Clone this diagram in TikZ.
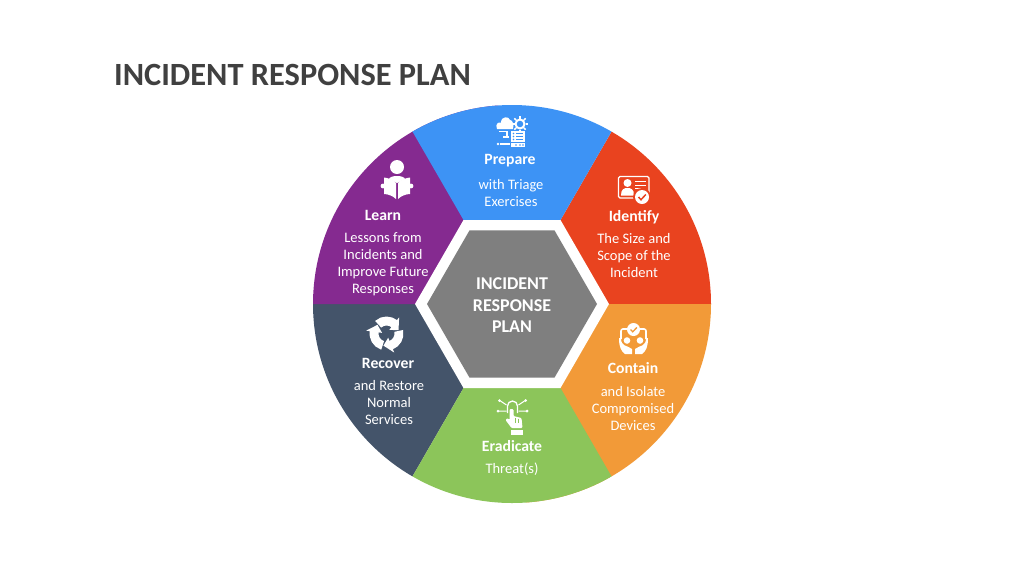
\documentclass[tikz,border=0pt]{standalone}
\usepackage{fontspec}
\setmainfont{Carlito}
\definecolor{cblue}{HTML}{3D93F5}
\definecolor{cred}{HTML}{E9431F}
\definecolor{corange}{HTML}{F29A38}
\definecolor{cgreen}{HTML}{8CC55A}
\definecolor{cnavy}{HTML}{44546A}
\definecolor{cpurple}{HTML}{852A90}
\definecolor{cgrey}{HTML}{7F7F7F}
\definecolor{ctitle}{HTML}{404040}
\tikzset{
  x=1pt,y=-1pt,
  heading/.style={text=white,font=\fontsize{15.7}{17}\selectfont\bfseries,inner sep=0pt,anchor=center},
  body/.style={text=white,font=\fontsize{14.5}{17}\selectfont,align=center,inner sep=0pt,anchor=center},
  centre/.style={text=white,font=\fontsize{18}{21.5}\selectfont\bfseries,align=center,inner sep=0pt},
  maintitle/.style={text=ctitle,font=\fontsize{32.4}{34}\selectfont\bfseries,inner sep=0pt,anchor=west},
}
\begin{document}
\begin{tikzpicture}
\useasboundingbox (0,0) rectangle (1024,576);
\fill[white] (0,0) rectangle (1024,576);
\coordinate (c) at (512,304);
% wheel
\begin{scope}
\clip (c) circle[radius=199pt];
\fill[cred]    (c) -- ++(-60:320) -- ++(300,0) -- (832,304) -- cycle;
\fill[corange] (c) -- (832,304) -- ++(0,280) -- ++(-300,0) -- cycle;
\fill[cnavy]   (c) -- ++(120:320) -- ++(-300,0) -- (192,304) -- cycle;
\fill[cpurple] (c) -- (192,304) -- ++(0,-280) -- ++(300,0) -- cycle;
\fill[cblue]   (c) -- ++(-120:320) -- ++(320,0) -- cycle;
\fill[cgreen]  (c) -- ++(60:320) -- ++(-320,0) -- cycle;
\end{scope}
\fill[white] (c) ++(0:97) -- ++(120:97) -- ++(180:97) -- ++(240:97) -- ++(300:97) -- ++(0:97) -- cycle;
\fill[cgrey] (c) ++(0:85) -- ++(120:85) -- ++(180:85) -- ++(240:85) -- ++(300:85) -- ++(0:85) -- cycle;

% texts
\node[maintitle] (title) at (114,75) {INCIDENT RESPONSE PLAN};
\node[centre] (hub) at (512,305.5) {INCIDENT\\RESPONSE\\PLAN};
\node[heading] (prepare) at (510,161) {Prepare};
\node[body] (prepareb) at (511,193) {with Triage\\Exercises};
\node[heading] (identify) at (634,217) {Identify};
\node[body] (identifyb) at (634,255.5) {The Size and\\Scope of the\\Incident};
\node[heading] (contain) at (633,368) {Contain};
\node[body] (containb) at (633,408.5) {and Isolate\\Compromised\\Devices};
\node[heading] (eradicate) at (512,446.5) {Eradicate};
\node[body] (eradicateb) at (512,469.5) {Threat(s)};
\node[heading] (recover) at (388,363.5) {Recover};
\node[body] (recoverb) at (389,402.5) {and Restore\\Normal\\Services};
\node[heading] (learn) at (383,215) {Learn};
\node[body] (learnb) at (383,264.5) {Lessons from\\Incidents and\\Improve Future\\Responses};

% Prepare icon
\begin{scope}[shift={(497,116)}]
\fill[white] (0,13) .. controls (-2,8) and (1,6) .. (4,6.5) .. controls (4,0) and (12,0) .. (13,4) .. controls (16,4) and (17,9) .. (16,13) -- cycle;
\draw[white,line width=2pt] (23,8) circle[radius=4.5pt];
\foreach \a in {0,45,...,315} \draw[white,line width=1.6pt] (23,8) ++(\a:5.5) -- ++(\a:2.5);
\fill[white] (14,15) rectangle (28,26);
\fill[white] (14,27) rectangle (28,31);
\foreach \yy in {17.5,20.5,23.5} \draw[cblue,line width=.8pt] (19,\yy) -- (26,\yy);
\foreach \yy in {17.5,20.5,23.5} \fill[cblue] (16.5,\yy) circle[radius=.8pt];
\foreach \xx in {19,23,26} \fill[cblue] (\xx,29) circle[radius=.8pt];
\draw[white,line width=1.2pt] (2,15.5) -- (10,15.5) -- (10,21);
\draw[white,line width=1.2pt] (6,21) -- (12,21);
\draw[white,line width=1.6pt] (3,28) -- (13,28);
\fill[white] (1,28) circle[radius=1.4pt];
\end{scope}

% Identify icon
\begin{scope}[shift={(618,176)}]
\draw[white,line width=1.2pt,rounded corners=1.5pt] (.5,.5) rectangle (31,22);
\fill[white] (9.5,7) circle[radius=4pt];
\fill[white] (3,19.5) .. controls (3,13) and (6,12) .. (9.5,12) .. controls (13,12) and (16,13) .. (16,19.5) -- cycle;
\draw[white,line width=1pt] (17,5.5) -- (28,5.5) (17,9) -- (28,9) (17,12.5) -- (24,12.5);
\fill[cred] (24,21) circle[radius=9pt];
\fill[white] (24,21) circle[radius=7pt];
\draw[cred,line width=1.5pt] (20.5,21) -- (23,23.7) -- (27.8,18.5);
\end{scope}

% Contain icon
\begin{scope}[shift={(619,323)}]
\draw[white,line width=1.6pt,rounded corners=2pt] (2,16) -- (2,6) -- (27,6) -- (27,16);
\fill[white] (14.5,6.5) circle[radius=6.5pt];
\draw[corange,line width=1.3pt] (11.5,6.5) -- (13.7,8.8) -- (17.8,4.5);
\fill[white] (8,17.5) circle[radius=3.3pt];
\fill[white] (21,17.5) circle[radius=3.3pt];
\fill[white] (0,15) -- (2,15) .. controls (2,24) and (8,22) .. (13,26) -- (13,31) -- (6,31) .. controls (2,28) and (0,24) .. (0,15) -- cycle;
\fill[white] (29,15) -- (27,15) .. controls (27,24) and (21,22) .. (16,26) -- (16,31) -- (23,31) .. controls (27,28) and (29,24) .. (29,15) -- cycle;
\end{scope}

% Eradicate icon
\begin{scope}[shift={(512.5,400)}]
\draw[white,line width=1.3pt] (-5,13) -- (-5,6) arc[start angle=180,end angle=0,radius=5pt] -- (5,13);
\draw[white,line width=1pt] (-6,5) -- (-12,1) (6,5) -- (12,1) (-6,11) -- (-14,11) (6,11) -- (14,11);
\foreach \p in {(-13,0.5),(13,0.5),(-14.5,11),(14.5,11)} \fill[white] \p circle[radius=1.5pt];
\fill[white,rounded corners=1pt] (-3,9) -- (1,9) -- (1,16) -- (9,18) -- (10,28) -- (-1,28) -- (-7,20) -- (-5,18) -- (-3,20) -- cycle;
\fill[white] (-2,30) rectangle (10,35);
\draw[cgreen,line width=.7pt] (3,18) -- (3,23) (6,18.5) -- (6,23);
\end{scope}

% Recover icon
\begin{scope}[shift={(386.5,333.5)}]
\foreach \r in {0,120,240}{
\fill[white] ({\r-132}:17) -- ({\r-110}:17) -- ({\r-90}:17) -- ({\r-70}:17) -- ({\r-52}:17)
  -- ({\r-52}:20.5) -- ({\r-16}:12.5) -- ({\r-52}:4.5) -- ({\r-52}:8) -- ({\r-70}:8) -- ({\r-90}:8) -- ({\r-110}:8) -- ({\r-132}:8) -- cycle;
}
\end{scope}

% Learn icon
\begin{scope}[shift={(397,167)}]
\fill[white] (0,0) circle[radius=7pt];
\fill[white] (-8,12) .. controls (-7,8) and (7,8) .. (8,12) -- (0,16) -- cycle;
\fill[white] (-1,16) .. controls (-4,12) and (-10,11) .. (-13,10.5) -- (-13,27) .. controls (-9,27) and (-4,29) .. (-1,32) -- cycle;
\fill[white] (1,16) .. controls (4,12) and (10,11) .. (13,10.5) -- (13,27) .. controls (9,27) and (4,29) .. (1,32) -- cycle;
\fill[white] (-14,19) circle[radius=2.4pt];
\fill[white] (14,19) circle[radius=2.4pt];
\end{scope}
\end{tikzpicture}
\end{document}
